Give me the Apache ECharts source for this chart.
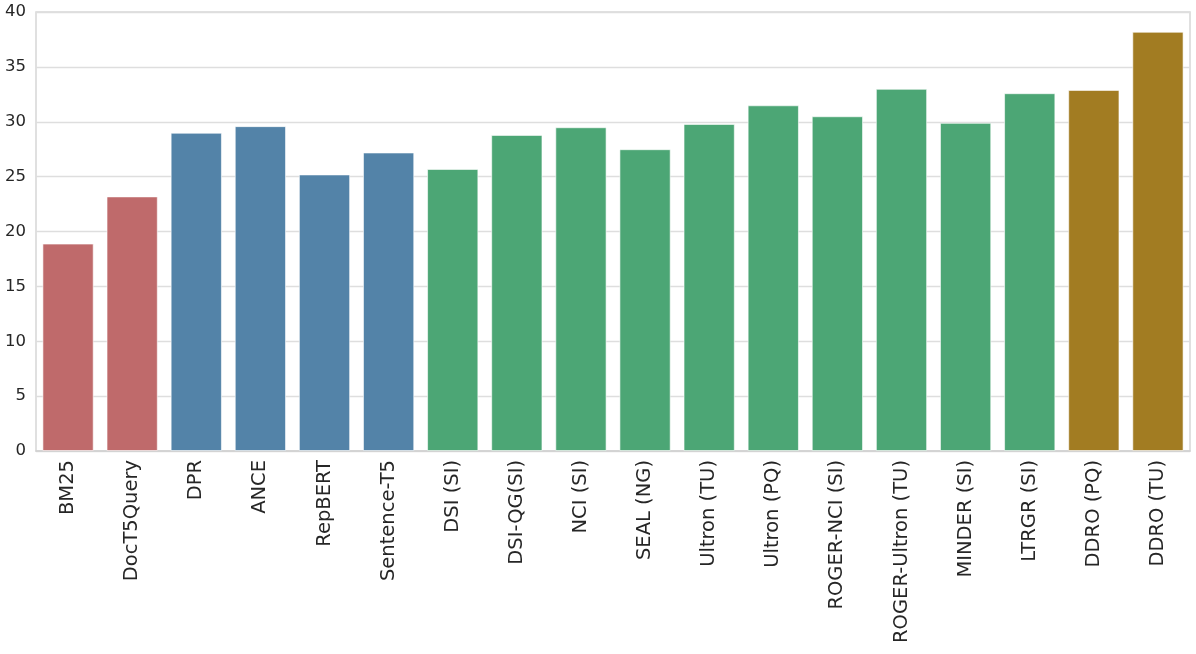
<!DOCTYPE html>
<html>
<head>
<meta charset="utf-8">
<script src="https://cdn.jsdelivr.net/npm/echarts@6/dist/echarts.min.js"></script>
<style>html,body{margin:0;padding:0;background:#fff;}#c{width:1196px;height:654px;}</style>
</head>
<body>
<div id="c"></div>
<script>
const categories = ["BM25","DocT5Query","DPR","ANCE","RepBERT","Sentence-T5","DSI (SI)","DSI-QG(SI)","NCI (SI)","SEAL (NG)","Ultron (TU)","Ultron (PQ)","ROGER-NCI (SI)","ROGER-Ultron (TU)","MINDER (SI)","LTRGR (SI)","DDRO (PQ)","DDRO (TU)"];
const values = [18.9,23.2,29.0,29.6,25.2,27.2,25.7,28.8,29.5,27.5,29.8,31.5,30.5,33.0,29.9,32.6,32.9,38.2];
const groups = ["sparse","sparse","dense","dense","dense","dense","gen","gen","gen","gen","gen","gen","gen","gen","gen","gen","ours","ours"];
const groupColors = {sparse:"#bf6a6b", dense:"#5383a8", gen:"#4ca675", ours:"#a27c22"};
const yTicks = [0,5,10,15,20,25,30,35,40];

const chart = echarts.init(document.getElementById('c'));
chart.setOption({
  animation:false,
  backgroundColor:'#fff',
  grid:{left:36,right:6,top:12,bottom:203,show:true,borderColor:'#d6d6d6',borderWidth:1.5,containLabel:false},
  xAxis:{type:'category',data:categories,
    axisLine:{show:true,lineStyle:{color:'#d0d0d0',width:1.5}},axisTick:{show:false},
    axisLabel:{rotate:90,fontFamily:'DejaVu Sans',fontSize:19.5,color:'#262626',margin:9,interval:0}},
  yAxis:{type:'value',min:0,max:40,interval:5,
    axisLine:{show:false},axisTick:{show:false},
    splitLine:{lineStyle:{color:'#dedede',width:1.3}},
    axisLabel:{fontFamily:'DejaVu Sans',fontSize:16.5,color:'#262626',margin:10,
      formatter:v=>yTicks.includes(v)?String(v):''}},
  series:[{type:'bar',barWidth:'80%',
    data:values.map((v,i)=>({value:v,itemStyle:{color:groupColors[groups[i]],borderColor:'rgba(255,255,255,0.6)',borderWidth:1}}))}]
});
</script>
</body>
</html>
